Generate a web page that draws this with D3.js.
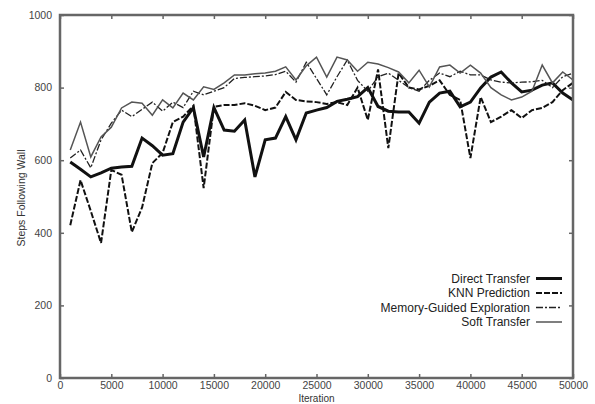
<!DOCTYPE html>
<html><head><meta charset="utf-8">
<script src="https://cdn.jsdelivr.net/npm/d3@7"></script>
<style>body{margin:0;background:#fff}svg{display:block}</style>
</head><body>
<svg id="c" width="595" height="404"></svg>
<script>
const iterations = d3.range(1000, 50001, 1000);
const directTransfer = [595,575,554,565,578,581,583,661,640,614,618,705,745,609,745,683,680,711,554,656,661,720,656,730,738,745,762,768,775,800,748,735,733,733,702,760,785,790,747,760,799,829,843,813,788,793,807,813,785,766];
const knnPrediction = [421,545,460,372,573,560,402,470,592,620,705,720,750,523,747,752,752,757,750,738,745,788,766,762,760,755,760,752,800,711,850,633,840,800,795,805,820,780,766,606,774,705,720,738,716,738,744,760,793,813];
const memoryGuided = [606,628,579,656,702,738,720,740,760,735,760,745,790,780,790,800,825,828,830,832,836,845,815,870,825,780,830,876,820,790,830,840,820,800,790,820,840,830,845,835,835,821,815,813,815,816,820,800,830,840];
const softTransfer = [628,705,609,664,691,744,760,757,724,766,744,785,766,802,795,813,835,835,838,840,845,857,821,860,884,829,884,876,845,870,865,855,843,813,848,802,857,862,840,862,840,800,780,766,774,790,862,813,843,821];
const seriesNames = ["Direct Transfer","KNN Prediction","Memory-Guided Exploration","Soft Transfer"];
const xTicks = [0,5000,10000,15000,20000,25000,30000,35000,40000,45000,50000];
const yTicks = [0,200,400,600,800,1000];

const styles = [
  {stroke:"#111", width:3, dash:null},
  {stroke:"#111", width:2, dash:"6,2"},
  {stroke:"#222", width:1.3, dash:"7,2,2,2"},
  {stroke:"#555", width:1.5, dash:null}
];
const allSeries = [directTransfer, knnPrediction, memoryGuided, softTransfer];

const svg = d3.select("#c");
const L=60, R=573, T=15, B=378;
const x = d3.scaleLinear().domain([0,50000]).range([L,R]);
const y = d3.scaleLinear().domain([0,1000]).range([B,T]);
const font = "'Liberation Sans', Arial, sans-serif";

// lines
const line = d3.line().x((d,i)=>x(iterations[i])).y(d=>y(d));
allSeries.forEach((s,k)=>{
  svg.append("path").datum(s).attr("d",line).attr("fill","none")
    .attr("stroke",styles[k].stroke).attr("stroke-width",styles[k].width)
    .attr("stroke-dasharray",styles[k].dash).attr("stroke-linejoin","miter");
});

// axes (ticks inward, mirrored)
const axisColor="#666";
const gB = svg.append("g").attr("transform",`translate(0,${B})`).call(d3.axisBottom(x).tickValues(xTicks).tickSize(-4).tickPadding(4).tickFormat(d3.format("d")));
const gT = svg.append("g").attr("transform",`translate(0,${T})`).call(d3.axisTop(x).tickValues(xTicks).tickSize(-4).tickFormat(""));
const gL = svg.append("g").attr("transform",`translate(${L},0)`).call(d3.axisLeft(y).tickValues(yTicks).tickSize(-4).tickPadding(8).tickFormat(d3.format("d")));
const gR = svg.append("g").attr("transform",`translate(${R},0)`).call(d3.axisRight(y).tickValues(yTicks).tickSize(-4).tickFormat(""));
[gB,gT,gL,gR].forEach(g=>{
  g.select(".domain").remove();
  g.selectAll(".tick line").attr("stroke",axisColor).attr("stroke-width",1.5);
  g.selectAll("text").attr("fill","#444").style("font-family",font).style("font-size","10.5px");
});
svg.append("rect").attr("x",L).attr("y",T).attr("width",R-L).attr("height",B-T)
  .attr("fill","none").attr("stroke",axisColor).attr("stroke-width",2.5);

// axis titles
svg.append("text").attr("x",(L+R)/2).attr("y",402).attr("text-anchor","middle")
  .style("font-family",font).style("font-size","10px").attr("fill","#333").text("Iteration");
svg.append("text").attr("transform","translate(25,198) rotate(-90)").attr("text-anchor","middle")
  .style("font-family",font).style("font-size","10.5px").attr("fill","#333").text("Steps Following Wall");

// legend
const legY=[278.5,293,307.5,322];
seriesNames.forEach((n,k)=>{
  svg.append("text").attr("x",530).attr("y",legY[k]+4).attr("text-anchor","end")
    .style("font-family",font).style("font-size","12px").attr("fill","#222").text(n);
  svg.append("line").attr("x1",536).attr("x2",562).attr("y1",legY[k]).attr("y2",legY[k])
    .attr("stroke",styles[k].stroke).attr("stroke-width",styles[k].width).attr("stroke-dasharray",styles[k].dash);
});
</script>
</body></html>
